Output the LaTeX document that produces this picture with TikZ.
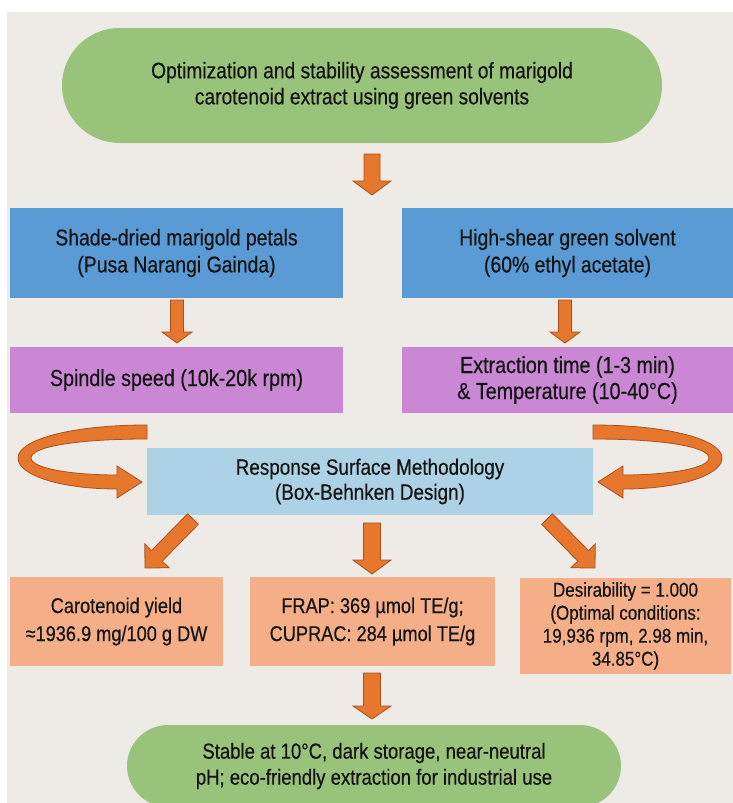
\documentclass[tikz,border=0pt]{standalone}
\usepackage{fontspec}
\setmainfont{Liberation Sans}[FakeStretch=0.85,FakeBold=0.4]
\usetikzlibrary{calc,shapes.misc}
\definecolor{bg}{HTML}{EEEBE6}
\definecolor{grn}{HTML}{99C37B}
\definecolor{blu}{HTML}{5B9BD5}
\definecolor{pur}{HTML}{CA87D3}
\definecolor{lbl}{HTML}{ADD2E6}
\definecolor{sal}{HTML}{F4AF88}
\definecolor{org}{HTML}{E8772E}
\definecolor{orgd}{HTML}{A9511E}
\definecolor{txt}{HTML}{141414}
\tikzset{
  box/.style={rectangle, inner sep=0pt, align=center, text=txt, font=\fontsize{22.8}{27}\selectfont},
  pill/.style={rounded rectangle, fill=grn, inner sep=0pt, align=center, text=txt, font=\fontsize{22.8}{27}\selectfont},
  blockarrow/.style={fill=org, draw=orgd, line width=0.8pt, line join=miter},
}
\newcommand\fatarrow[5]{% half shaft, half head, head length, start, end
  \coordinate (fah) at ($(#5)!#3!(#4)$);
  \path[blockarrow] ($(#4)!#1!90:(#5)$) -- ($(fah)!#1!90:(#5)$) -- ($(fah)!#2!90:(#5)$) -- (#5)
    -- ($(fah)!#2!-90:(#5)$) -- ($(fah)!#1!-90:(#5)$) -- ($(#4)!#1!-90:(#5)$) -- cycle;}
\begin{document}
\begin{tikzpicture}[x=1pt,y=-1pt]
\useasboundingbox (0,0) rectangle (733,803);
\fill[white] (0,0) rectangle (733,803);
\fill[bg] (7,12) rectangle (733,803);

\node[pill, minimum width=600pt, minimum height=115pt, font=\fontsize{22.6}{26}\selectfont] (title) at (362,85.5)
  {Optimization and stability assessment of marigold\\carotenoid extract using green solvents};

\node[box, fill=blu, minimum width=333pt, minimum height=90pt] (src) at (176.5,253)
  {Shade-dried marigold petals\\(Pusa Narangi Gainda)};
\node[box, fill=blu, minimum width=331pt, minimum height=90pt] (solv) at (567.5,253)
  {High-shear green solvent\\(60\% ethyl acetate)};
\node[box, fill=pur, minimum width=333pt, minimum height=66pt, font=\fontsize{23.2}{27}\selectfont] (spd) at (176.5,380)
  {Spindle speed (10k-20k rpm)};
\node[box, fill=pur, minimum width=331pt, minimum height=66pt, font=\fontsize{23.2}{26}\selectfont] (tt) at (567.5,380)
  {Extraction time (1-3 min)\\\& Temperature (10-40°C)};
\node[box, fill=lbl, minimum width=446pt, minimum height=67pt, font=\fontsize{22.2}{25}\selectfont] (rsm) at (370,481.5)
  {Response Surface Methodology\\(Box-Behnken Design)};
\node[box, fill=sal, minimum width=213pt, minimum height=89pt, font=\fontsize{21.4}{28}\selectfont] (yield) at (116.5,621.5)
  {Carotenoid yield\\≈1936.9 mg/100 g DW};
\node[box, fill=sal, minimum width=245pt, minimum height=89pt, font=\fontsize{21.4}{28}\selectfont] (frap) at (372.5,621.5)
  {FRAP: 369 µmol TE/g;\\CUPRAC: 284 µmol TE/g};
\node[box, fill=sal, minimum width=211pt, minimum height=96pt, font=\fontsize{20}{23}\selectfont] (des) at (625.5,626)
  {Desirability = 1.000\\(Optimal conditions:\\19,936 rpm, 2.98 min,\\34.85°C)};
\node[pill, minimum width=494pt, minimum height=82pt, font=\fontsize{21.8}{26}\selectfont] (stab) at (374,766)
  {Stable at 10°C, dark storage, near-neutral\\pH; eco-friendly extraction for industrial use};

% straight block arrows
\coordinate (a1s) at (372,154); \coordinate (a1e) at (372,195);
\fatarrow{8pt}{19pt}{14pt}{a1s}{a1e}
\coordinate (a2s) at (177,300); \coordinate (a2e) at (177,343);
\fatarrow{6.5pt}{15pt}{11pt}{a2s}{a2e}
\coordinate (a3s) at (565,300); \coordinate (a3e) at (565,343);
\fatarrow{6.5pt}{15pt}{11pt}{a3s}{a3e}
\coordinate (a4s) at (193,519); \coordinate (a4e) at (145,568);
\fatarrow{7.5pt}{17pt}{17pt}{a4s}{a4e}
\coordinate (a5s) at (372,523); \coordinate (a5e) at (372,574);
\fatarrow{8.5pt}{19pt}{14pt}{a5s}{a5e}
\coordinate (a6s) at (547,519); \coordinate (a6e) at (595,568);
\fatarrow{7.5pt}{17pt}{17pt}{a6s}{a6e}
\coordinate (a7s) at (372,673); \coordinate (a7e) at (372,719);
\fatarrow{8.5pt}{19pt}{13pt}{a7s}{a7e}

% curved arrows into RSM
\path[blockarrow] (147,425) .. controls (70,425) and (18,440) .. (18,458)
  .. controls (18,475) and (60,489) .. (117,489) -- (117,498) -- (142,482) -- (117,466) -- (117,475)
  .. controls (70,475) and (31,468) .. (31,458) .. controls (31,447) and (75,439) .. (147,439) -- cycle;
\path[blockarrow] (593,425) .. controls (670,425) and (722,440) .. (722,458)
  .. controls (722,475) and (680,489) .. (623,489) -- (623,498) -- (598,482) -- (623,466) -- (623,475)
  .. controls (670,475) and (709,468) .. (709,458) .. controls (709,447) and (665,439) .. (593,439) -- cycle;
\end{tikzpicture}
\end{document}
